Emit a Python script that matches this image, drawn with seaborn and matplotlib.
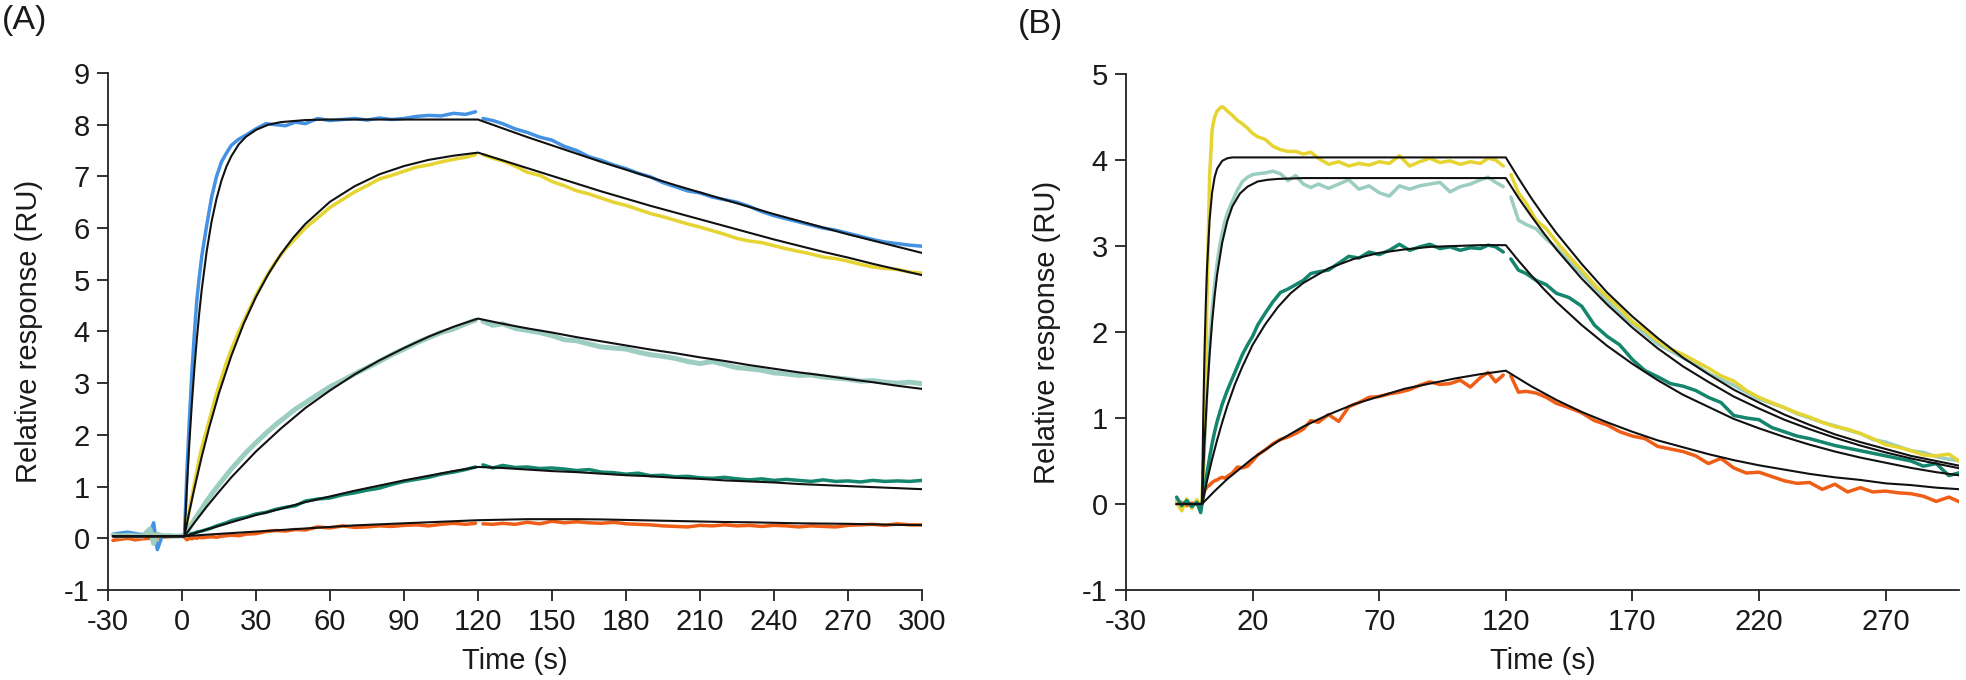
import matplotlib
matplotlib.use("Agg")
import matplotlib.pyplot as plt
import seaborn as sns

# ---------------- Panel A : measured traces ----------------
A_T = [-28, -25, -22, -19, -16, -13, -11.5, -10, -8, -5, -2, 0,
       1, 2, 3, 4, 5, 6, 7, 8, 10, 12, 14, 16, 18, 20, 23, 26, 30, 34, 38, 42, 46, 50,
       55, 60, 65, 70, 75, 80, 85, 90, 95, 100, 105, 110, 115, 119,
       122, 126, 130, 135, 140, 145, 150, 155, 160, 165, 170, 175, 180, 185, 190, 195,
       200, 205, 210, 215, 220, 225, 230, 235, 240, 245, 250, 255, 260, 265, 270, 275,
       280, 285, 290, 295, 300]

A_BLUE = [0.08, 0.10, 0.12, 0.09, 0.07, 0.10, 0.30, -0.22, 0.05, 0.05, 0.04, 0.05,
          0.05, 1.3, 2.3, 3.2, 3.95, 4.6, 5.05, 5.45, 6.05, 6.6, 7.0, 7.28, 7.45, 7.6, 7.72, 7.8,
          7.92, 8.02, 8.0, 7.98, 8.05, 8.02, 8.12, 8.08, 8.1, 8.12, 8.09, 8.13, 8.1, 8.12, 8.16,
          8.18, 8.17, 8.22, 8.2, 8.25,
          8.12, 8.08, 8.02, 7.92, 7.85, 7.76, 7.70, 7.58, 7.50, 7.38, 7.31, 7.22, 7.15, 7.06,
          6.99, 6.88, 6.80, 6.72, 6.68, 6.60, 6.55, 6.50, 6.42, 6.32, 6.24, 6.18, 6.12, 6.06,
          6.00, 5.96, 5.90, 5.84, 5.78, 5.73, 5.70, 5.67, 5.65]

A_YELLOW = [0.04, 0.06, 0.05, 0.03, 0.05, 0.06, 0.08, 0.02, 0.05, 0.04, 0.05, 0.05,
            0.05, 0.3, 0.55, 0.8, 1.05, 1.3, 1.55, 1.75, 2.1, 2.45, 2.8, 3.1, 3.4, 3.65, 4.0, 4.3,
            4.7, 5.05, 5.35, 5.6, 5.8, 6.0, 6.2, 6.4, 6.55, 6.7, 6.82, 6.95, 7.02, 7.1, 7.18,
            7.22, 7.28, 7.33, 7.37, 7.42,
            7.42, 7.35, 7.3, 7.2, 7.08, 7.02, 6.9, 6.82, 6.72, 6.66, 6.58, 6.5, 6.44, 6.36,
            6.28, 6.22, 6.15, 6.08, 6.02, 5.95, 5.88, 5.8, 5.75, 5.72, 5.66, 5.6, 5.55, 5.5,
            5.44, 5.41, 5.36, 5.3, 5.25, 5.22, 5.2, 5.15, 5.13]

A_LTEAL = [0.06, 0.04, 0.06, 0.05, 0.04, 0.18, -0.10, 0.08, 0.05, 0.05, 0.04, 0.05,
           0.05, 0.12, 0.2, 0.28, 0.36, 0.43, 0.5, 0.57, 0.72, 0.85, 0.98, 1.1, 1.22, 1.34, 1.5,
           1.66, 1.85, 2.03, 2.2, 2.35, 2.5, 2.62, 2.78, 2.93, 3.05, 3.18, 3.3, 3.42, 3.55, 3.66,
           3.78, 3.88, 3.98, 4.05, 4.15, 4.22,
           4.2, 4.12, 4.15, 4.06, 4.02, 3.98, 3.92, 3.84, 3.82, 3.76, 3.7, 3.68, 3.66, 3.6,
           3.55, 3.52, 3.48, 3.42, 3.38, 3.42, 3.36, 3.3, 3.28, 3.25, 3.2, 3.18, 3.15, 3.16,
           3.12, 3.1, 3.08, 3.04, 3.05, 3.02, 3.0, 3.02, 2.99]

A_DTEAL = [0.06, 0.08, 0.06, 0.07, 0.05, 0.06, 0.05, 0.06, 0.05, 0.04, 0.05, 0.05,
           0.05, 0.06, 0.08, 0.09, 0.1, 0.12, 0.13, 0.14, 0.17, 0.2, 0.24, 0.27, 0.3, 0.34, 0.38,
           0.41, 0.47, 0.5, 0.56, 0.6, 0.63, 0.72, 0.76, 0.78, 0.84, 0.88, 0.93, 0.97, 1.04, 1.1,
           1.14, 1.18, 1.24, 1.28, 1.33, 1.38,
           1.42, 1.36, 1.41, 1.37, 1.38, 1.35, 1.36, 1.34, 1.31, 1.33, 1.28, 1.27, 1.24, 1.26,
           1.21, 1.22, 1.19, 1.2, 1.17, 1.16, 1.18, 1.15, 1.13, 1.15, 1.12, 1.14, 1.12, 1.1,
           1.13, 1.1, 1.11, 1.09, 1.12, 1.1, 1.11, 1.1, 1.12]

A_ORANGE = [-0.04, -0.02, 0.0, -0.03, -0.01, 0.0, 0.02, 0.0, 0.02, 0.03, 0.04, 0.04,
            0.02, -0.03, 0.0, -0.01, 0.01, 0.0, 0.02, 0.01, 0.02, 0.03, 0.02, 0.04, 0.05, 0.06,
            0.05, 0.08, 0.09, 0.13, 0.15, 0.14, 0.17, 0.16, 0.22, 0.2, 0.24, 0.21, 0.22, 0.24,
            0.23, 0.25, 0.26, 0.24, 0.27, 0.29, 0.27, 0.29,
            0.28, 0.27, 0.29, 0.27, 0.31, 0.28, 0.33, 0.3, 0.32, 0.3, 0.29, 0.31, 0.28, 0.27,
            0.26, 0.24, 0.23, 0.22, 0.25, 0.24, 0.26, 0.24, 0.25, 0.23, 0.25, 0.24, 0.22, 0.24,
            0.23, 0.22, 0.25, 0.26, 0.27, 0.25, 0.28, 0.26, 0.26]

# ---------------- Panel A : fitted curves ----------------
A_FIT_TD = [120, 130, 140, 150, 160, 170, 180, 190, 200, 210, 220, 230, 240, 250, 260,
            270, 280, 290, 300]
A_FIT_BLUE_T = [-28, 1, 2, 3, 4, 5, 6, 7, 8, 10, 12, 14, 16, 18, 20, 23, 26, 30, 35, 40,
                50, 60, 80, 100, 120]
A_FIT_BLUE_A = [0.04, 0.04, 1.01, 1.86, 2.61, 3.27, 3.85, 4.36, 4.81, 5.55, 6.13, 6.57, 6.92,
                7.19, 7.39, 7.62, 7.77, 7.90, 8.00, 8.05, 8.09, 8.10, 8.10, 8.10, 8.10]
A_FIT_BLUE_D = [8.10, 7.93, 7.76, 7.60, 7.44, 7.28, 7.13, 6.98, 6.83, 6.69, 6.55, 6.41, 6.27,
                6.14, 6.01, 5.88, 5.76, 5.64, 5.52]
A_FIT_YELLOW_T = [-28, 1, 3, 5, 8, 11, 15, 20, 25, 30, 35, 40, 45, 50, 60, 70, 80, 90, 100,
                  110, 120]
A_FIT_YELLOW_A = [0.04, 0.04, 0.52, 0.96, 1.58, 2.14, 2.81, 3.53, 4.15, 4.67, 5.11, 5.49, 5.81,
                  6.08, 6.51, 6.81, 7.04, 7.20, 7.32, 7.40, 7.46]
A_FIT_YELLOW_D = [7.46, 7.31, 7.16, 7.01, 6.86, 6.71, 6.57, 6.43, 6.30, 6.17, 6.04, 5.91, 5.78,
                  5.66, 5.54, 5.43, 5.31, 5.20, 5.09]
A_FIT_LTEAL_T = [-28, 1, 5, 10, 15, 20, 30, 40, 50, 60, 70, 80, 90, 100, 110, 120]
A_FIT_LTEAL_A = [0.04, 0.04, 0.30, 0.61, 0.90, 1.18, 1.68, 2.12, 2.52, 2.86, 3.17, 3.44, 3.68,
                 3.90, 4.09, 4.25]
A_FIT_LTEAL_D = [4.25, 4.15, 4.06, 3.98, 3.89, 3.81, 3.73, 3.65, 3.58, 3.50, 3.43, 3.35, 3.28,
                 3.21, 3.15, 3.08, 3.02, 2.95, 2.89]
A_FIT_LOW_T = [-28, 1, 10, 20, 30, 40, 50, 60, 70, 80, 90, 100, 110, 120]
A_FIT_DTEAL_A = [0.04, 0.04, 0.17, 0.31, 0.45, 0.57, 0.70, 0.81, 0.92, 1.02, 1.12, 1.21, 1.30, 1.38]
A_FIT_DTEAL_D = [1.38, 1.36, 1.33, 1.30, 1.28, 1.25, 1.22, 1.20, 1.17, 1.15, 1.12, 1.10, 1.08,
                 1.05, 1.03, 1.01, 0.99, 0.97, 0.95]
A_FIT_ORANGE_A = [0.04, 0.04, 0.07, 0.10, 0.13, 0.16, 0.19, 0.22, 0.25, 0.27, 0.29, 0.31, 0.33, 0.35]
A_FIT_ORANGE_D = [0.35, 0.36, 0.37, 0.37, 0.37, 0.365, 0.355, 0.345, 0.335, 0.325, 0.315, 0.31,
                  0.30, 0.29, 0.285, 0.28, 0.27, 0.26, 0.255]

# ---------------- Panel B : measured traces ----------------
B_T = [-10, -8, -6, -4, -2, -0.5,
       0, 1, 2, 3, 4, 5, 6, 7, 8, 9, 10, 12, 14, 16, 18, 20, 22, 25, 28, 31, 34, 37, 40, 43, 46,
       50, 54, 58, 62, 66, 70, 74, 78, 82, 86, 90, 94, 98, 102, 106, 110, 113, 116, 119,
       122, 125, 128, 132, 136, 140, 145, 150, 155, 160, 165, 170, 175, 180, 185, 190, 195,
       200, 205, 210, 215, 220, 225, 230, 235, 240, 245, 250, 255, 260, 265, 270, 275, 280,
       285, 290, 295, 300]

B_YELLOW = [0.02, -0.08, 0.06, -0.05, 0.05, -0.02,
            0.0, 0.8, 2.4, 3.8, 4.35, 4.5, 4.57, 4.6, 4.62, 4.6, 4.57, 4.52, 4.46, 4.42, 4.37,
            4.31, 4.27, 4.24, 4.16, 4.12, 4.1, 4.1, 4.07, 4.09, 4.02, 3.95, 3.98, 3.93, 3.96,
            3.94, 3.98, 3.96, 4.05, 3.93, 3.98, 4.02, 3.97, 3.99, 3.95, 3.98, 3.96, 4.02, 4.0, 3.93,
            3.83, 3.62, 3.5, 3.3, 3.2, 3.05, 2.88, 2.72, 2.55, 2.41, 2.28, 2.12, 2.02, 1.9, 1.8,
            1.74, 1.66, 1.58, 1.49, 1.43, 1.32, 1.24, 1.18, 1.12, 1.06, 1.01, 0.95, 0.9, 0.87,
            0.82, 0.76, 0.69, 0.66, 0.62, 0.57, 0.56, 0.58, 0.48]

B_LTEAL = [0.05, 0.0, 0.03, -0.03, 0.02, 0.0,
           0.0, 0.7, 1.35, 1.85, 2.25, 2.55, 2.8, 3.0, 3.15, 3.28, 3.38, 3.52, 3.65, 3.75, 3.8,
           3.83, 3.84, 3.85, 3.87, 3.84, 3.76, 3.82, 3.72, 3.68, 3.72, 3.67, 3.72, 3.77, 3.66,
           3.7, 3.62, 3.58, 3.7, 3.66, 3.7, 3.72, 3.74, 3.63, 3.69, 3.72, 3.77, 3.8, 3.74, 3.69,
           3.57, 3.3, 3.25, 3.2, 3.08, 2.98, 2.82, 2.68, 2.52, 2.36, 2.22, 2.1, 1.98, 1.86, 1.78,
           1.7, 1.62, 1.52, 1.45, 1.38, 1.3, 1.22, 1.17, 1.12, 1.05, 1.0, 0.95, 0.91, 0.86,
           0.82, 0.75, 0.72, 0.67, 0.62, 0.6, 0.55, 0.52, 0.5]

B_DTEAL = [0.08, -0.02, 0.04, -0.03, 0.02, -0.1,
           0.0, 0.18, 0.36, 0.54, 0.7, 0.84, 0.96, 1.06, 1.16, 1.24, 1.32, 1.46, 1.6, 1.74, 1.85,
           1.95, 2.08, 2.22, 2.35, 2.46, 2.5, 2.55, 2.6, 2.68, 2.7, 2.72, 2.8, 2.88, 2.86, 2.93,
           2.9, 2.95, 3.02, 2.95, 2.99, 3.02, 2.97, 2.99, 2.95, 2.98, 2.97, 3.01, 2.99, 2.93,
           2.85, 2.72, 2.68, 2.6, 2.55, 2.45, 2.4, 2.3, 2.08, 1.95, 1.85, 1.68, 1.55, 1.48, 1.4,
           1.37, 1.32, 1.24, 1.18, 1.03, 1.0, 0.98, 0.89, 0.84, 0.79, 0.76, 0.72, 0.68, 0.65,
           0.62, 0.59, 0.56, 0.53, 0.5, 0.44, 0.47, 0.33, 0.37]

B_ORANGE = [0.0, 0.02, -0.02, 0.01, 0.0, 0.0,
            0.0, 0.15, 0.2, 0.22, 0.25, 0.27, 0.28, 0.3, 0.31, 0.3, 0.32, 0.36, 0.43, 0.42, 0.44,
            0.5, 0.57, 0.63, 0.7, 0.75, 0.78, 0.82, 0.87, 0.97, 0.95, 1.04, 0.96, 1.13, 1.18,
            1.24, 1.25, 1.28, 1.3, 1.33, 1.38, 1.42, 1.39, 1.4, 1.44, 1.36, 1.47, 1.53, 1.42, 1.5,
            1.49, 1.3, 1.31, 1.29, 1.24, 1.17, 1.12, 1.06, 0.97, 0.92, 0.84, 0.79, 0.76, 0.67,
            0.64, 0.61, 0.56, 0.47, 0.53, 0.42, 0.36, 0.37, 0.32, 0.27, 0.24, 0.25, 0.17, 0.23,
            0.14, 0.19, 0.14, 0.15, 0.13, 0.12, 0.09, 0.03, 0.08, 0.015]

# ---------------- Panel B : fitted curves ----------------
B_FIT_TD = [120, 125, 130, 135, 140, 150, 160, 170, 180, 190, 200, 210, 220, 230, 240, 250,
            260, 270, 280, 290, 300]
B_FIT_YELLOW_T = [-10, 0, 0.5, 1, 1.5, 2, 3, 4, 5, 6, 8, 10, 12, 15, 120]
B_FIT_YELLOW_A = [0, 0, 1.00, 1.75, 2.31, 2.74, 3.30, 3.62, 3.80, 3.90, 3.99, 4.02, 4.03, 4.03, 4.03]
B_FIT_YELLOW_D = [4.03, 3.79, 3.56, 3.35, 3.15, 2.79, 2.46, 2.18, 1.93, 1.70, 1.51, 1.33, 1.18,
                  1.04, 0.92, 0.81, 0.72, 0.64, 0.56, 0.50, 0.44]
B_FIT_LTEAL_T = [-10, 0, 1, 2, 3, 4, 5, 6, 8, 10, 12, 15, 18, 22, 26, 30, 40, 60, 120]
B_FIT_LTEAL_A = [0, 0, 0.70, 1.26, 1.73, 2.11, 2.42, 2.67, 3.04, 3.29, 3.46, 3.61, 3.69, 3.75,
                 3.77, 3.78, 3.79, 3.79, 3.79]
B_FIT_LTEAL_D = [3.79, 3.56, 3.35, 3.15, 2.96, 2.62, 2.32, 2.05, 1.81, 1.60, 1.42, 1.25, 1.11,
                 0.98, 0.87, 0.77, 0.68, 0.60, 0.53, 0.47, 0.41]
B_FIT_DTEAL_T = [-10, 0, 2, 4, 6, 8, 10, 13, 16, 20, 25, 30, 35, 40, 50, 60, 70, 80, 90, 100,
                 110, 120]
B_FIT_DTEAL_A = [0, 0, 0.27, 0.52, 0.745, 0.95, 1.14, 1.39, 1.60, 1.85, 2.09, 2.29, 2.45, 2.57,
                 2.74, 2.85, 2.92, 2.96, 2.99, 3.00, 3.01, 3.01]
B_FIT_DTEAL_D = [3.01, 2.83, 2.66, 2.50, 2.35, 2.08, 1.84, 1.63, 1.44, 1.27, 1.13, 0.99, 0.88,
                 0.78, 0.69, 0.61, 0.54, 0.48, 0.42, 0.37, 0.33]
B_FIT_ORANGE_T = [-10, 0, 5, 10, 15, 20, 25, 30, 40, 50, 60, 70, 80, 90, 100, 110, 120]
B_FIT_ORANGE_A = [0, 0, 0.15, 0.29, 0.41, 0.53, 0.63, 0.73, 0.90, 1.04, 1.16, 1.25, 1.34, 1.40,
                  1.46, 1.51, 1.55]
B_FIT_ORANGE_D = [1.55, 1.46, 1.37, 1.29, 1.21, 1.07, 0.95, 0.84, 0.74, 0.66, 0.58, 0.51, 0.45,
                  0.40, 0.35, 0.31, 0.28, 0.24, 0.22, 0.19, 0.17]

A_XTICKS = list(range(-30, 301, 30))
A_YTICKS = list(range(-1, 10))
B_XTICKS = list(range(-30, 271, 50))
B_YTICKS = list(range(-1, 6))

C_BLUE = "#4392E4"
C_YELLOW = "#E5D431"
C_LTEAL = "#9BCDC1"
C_DTEAL = "#13866D"
C_ORANGE = "#EF5E17"

sns.set_theme(style="ticks")
plt.rcParams["font.family"] = ["Liberation Sans", "DejaVu Sans"]
plt.rcParams["axes.unicode_minus"] = False

FS = 21
fig = plt.figure(figsize=(19.66, 6.8), dpi=100)
W, H = 1966.0, 680.0
axA = fig.add_axes([108 / W, (H - 590) / H, (922 - 108) / W, (590 - 73) / H])
axB = fig.add_axes([1126 / W, (H - 590) / H, (1959 - 1126) / W, (590 - 74) / H])


def trace(ax, t, y, color, lw, z):
    """measured trace, drawn with the break at the end of injection"""
    pre = [(a, b) for a, b in zip(t, y) if a <= 120]
    post = [(a, b) for a, b in zip(t, y) if a > 120]
    for part in (pre, post):
        sns.lineplot(x=[p[0] for p in part], y=[p[1] for p in part], ax=ax, color=color,
                     linewidth=lw, estimator=None, sort=False, zorder=z)


def fit(ax, ta, ya, td, yd):
    sns.lineplot(x=list(ta) + list(td[1:]), y=list(ya) + list(yd[1:]), ax=ax, color="#111111",
                 linewidth=1.5, estimator=None, sort=False, zorder=10)


# Panel A
trace(axA, A_T, A_ORANGE, C_ORANGE, 2.5, 2)
trace(axA, A_T, A_DTEAL, C_DTEAL, 2.5, 3)
trace(axA, A_T, A_BLUE, C_BLUE, 2.5, 4)
trace(axA, A_T, A_YELLOW, C_YELLOW, 2.5, 5)
trace(axA, A_T, A_LTEAL, C_LTEAL, 3.6, 6)
fit(axA, A_FIT_BLUE_T, A_FIT_BLUE_A, A_FIT_TD, A_FIT_BLUE_D)
fit(axA, A_FIT_YELLOW_T, A_FIT_YELLOW_A, A_FIT_TD, A_FIT_YELLOW_D)
fit(axA, A_FIT_LTEAL_T, A_FIT_LTEAL_A, A_FIT_TD, A_FIT_LTEAL_D)
fit(axA, A_FIT_LOW_T, A_FIT_DTEAL_A, A_FIT_TD, A_FIT_DTEAL_D)
fit(axA, A_FIT_LOW_T, A_FIT_ORANGE_A, A_FIT_TD, A_FIT_ORANGE_D)

# Panel B
trace(axB, B_T, B_ORANGE, C_ORANGE, 2.5, 2)
trace(axB, B_T, B_LTEAL, C_LTEAL, 2.5, 3)
trace(axB, B_T, B_YELLOW, C_YELLOW, 2.5, 4)
trace(axB, B_T, B_DTEAL, C_DTEAL, 2.5, 5)
fit(axB, B_FIT_YELLOW_T, B_FIT_YELLOW_A, B_FIT_TD, B_FIT_YELLOW_D)
fit(axB, B_FIT_LTEAL_T, B_FIT_LTEAL_A, B_FIT_TD, B_FIT_LTEAL_D)
fit(axB, B_FIT_DTEAL_T, B_FIT_DTEAL_A, B_FIT_TD, B_FIT_DTEAL_D)
fit(axB, B_FIT_ORANGE_T, B_FIT_ORANGE_A, B_FIT_TD, B_FIT_ORANGE_D)

for ax, xt, yt, xl, yl in ((axA, A_XTICKS, A_YTICKS, (-30, 300), (-1, 9)),
                           (axB, B_XTICKS, B_YTICKS, (-30, 299), (-1, 5))):
    ax.set_xlim(*xl)
    ax.set_ylim(*yl)
    ax.set_xticks(xt)
    ax.set_yticks(yt)
    ax.set_xticklabels([str(v) for v in xt])
    ax.set_yticklabels([str(v) for v in yt])
    for s in ("top", "right"):
        ax.spines[s].set_visible(False)
    for s in ("left", "bottom"):
        ax.spines[s].set_linewidth(1.3)
        ax.spines[s].set_color("#222222")
    ax.tick_params(direction="out", length=8, width=1.3, color="#222222",
                   labelsize=FS, labelcolor="#1a1a1a", pad=5)
    ax.set_xlabel("Time (s)", fontsize=FS, color="#1a1a1a", labelpad=8)
    ax.set_ylabel("Relative response (RU)", fontsize=FS, color="#1a1a1a", labelpad=15)
    ax.set_facecolor("white")
    ax.grid(False)

fig.text(2 / W, 1 - 5 / H, "(A)", fontsize=24.5, ha="left", va="top", color="#1a1a1a")
fig.text(1018 / W, 1 - 9 / H, "(B)", fontsize=24.5, ha="left", va="top", color="#1a1a1a")

fig.savefig("out.png", dpi=100, facecolor="white")
